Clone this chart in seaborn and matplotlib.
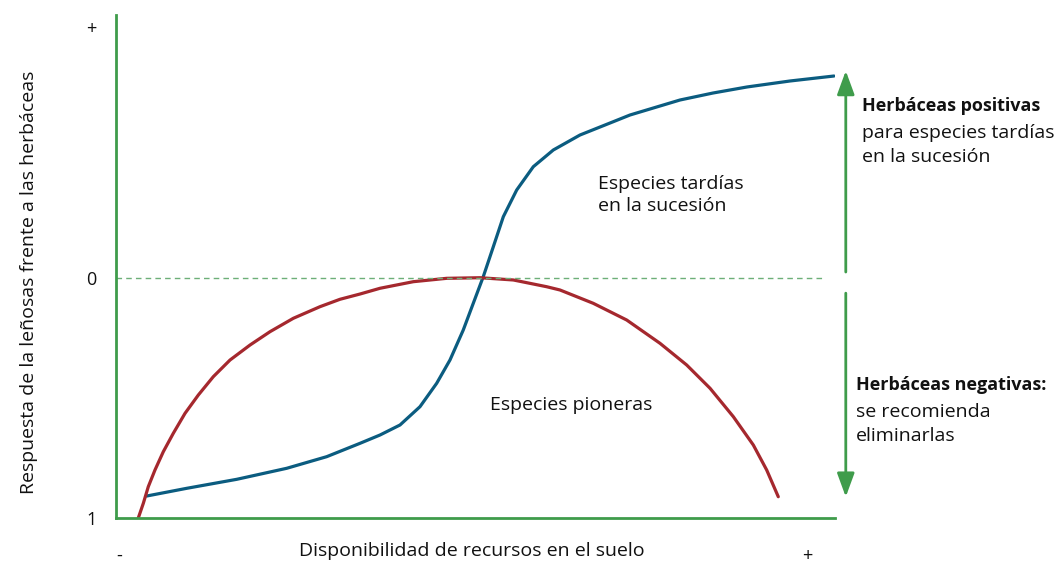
import matplotlib
matplotlib.use("Agg")
import matplotlib.pyplot as plt
import seaborn as sns

# Curves (x: resource availability 0-100, y: response 0-100)
tardias_x = [4.27, 9.83, 16.79, 23.74, 29.30, 33.94, 36.72, 39.50, 42.28, 44.60, 46.45,
             48.30, 49.69, 51.08, 52.48, 53.87, 55.73, 58.04, 60.82, 64.53, 69.17, 71.49,
             78.44, 83.03, 87.76, 93.74, 99.86]
tardias_y = [4.37, 5.90, 7.69, 9.88, 12.19, 14.85, 16.50, 18.49, 22.13, 26.78, 31.41,
             37.38, 42.68, 47.97, 53.94, 59.90, 65.21, 69.84, 73.16, 76.14, 78.79, 80.12,
             83.10, 84.49, 85.69, 86.88, 87.87]

pioneras_x = [3.10, 3.80, 4.49, 5.42, 6.58, 7.97, 9.60, 11.45, 13.53, 15.86, 18.64, 21.42,
              24.66, 28.37, 31.15, 33.94, 36.72, 41.35, 45.99, 50.63, 55.26, 59.90, 61.75,
              66.38, 71.03, 75.66, 79.37, 82.62, 85.86, 88.64, 90.50, 92.11]
pioneras_y = [0.0, 2.92, 6.22, 9.54, 13.18, 16.84, 20.81, 24.45, 28.09, 31.41, 34.39, 37.04,
              39.70, 42.01, 43.48, 44.53, 45.67, 46.98, 47.65, 47.77, 47.32, 45.98, 45.33,
              42.68, 39.36, 34.73, 30.42, 25.79, 20.14, 14.51, 9.54, 4.23]

y_ticks = [97.6, 47.7, 0]
y_labels = ["+", "0", "1"]
x_ticks = [0.4, 96.2]
x_labels = ["-", "+"]
zero_level = 47.7

green = "#3f9c4b"
blue = "#0b5c80"
red = "#a5282e"
ink = "#111111"

sns.set_theme(style="white")
plt.rcParams["font.family"] = ["Open Sans", "DejaVu Sans"]

fig = plt.figure(figsize=(10.56, 5.65), dpi=100)
ax = fig.add_axes([116 / 1056, 1 - 518 / 565, 719 / 1056, 503 / 565])

sns.lineplot(x=tardias_x, y=tardias_y, color=blue, lw=2.3, sort=False, ax=ax)
sns.lineplot(x=pioneras_x, y=pioneras_y, color=red, lw=2.3, sort=False, ax=ax)

ax.plot([0, 98.6], [zero_level, zero_level], ls=(0, (4, 3)), color="#6daf78", lw=1.0)

ax.set_xlim(0, 100)
ax.set_ylim(0, 100)

for s in ["top", "right"]:
    ax.spines[s].set_visible(False)
for s in ["left", "bottom"]:
    ax.spines[s].set_color(green)
    ax.spines[s].set_linewidth(2.0)

ax.set_yticks(y_ticks)
ax.set_yticklabels(y_labels)
ax.set_xticks(x_ticks)
ax.set_xticklabels(x_labels)
ax.tick_params(axis="y", length=0, pad=14, labelsize=13, labelcolor=ink)
ax.tick_params(axis="x", length=0, pad=21, labelsize=13, labelcolor=ink)

ax.set_xlabel("Disponibilidad de recursos en el suelo", fontsize=14, color=ink)
ax.xaxis.set_label_coords(0.495, -0.048)
ax.set_ylabel("Respuesta de la leñosas frente a las herbáceas", fontsize=14, color=ink)
ax.yaxis.set_label_coords(-0.108, 0.468)

ax.text(67.0, 64.2, "Especies tardías\nen la sucesión", fontsize=14, color=ink,
        va="center", ha="left", linespacing=1.3)
ax.text(52.0, 22.5, "Especies pioneras", fontsize=14, color=ink,
        va="center", ha="left")

# right-hand arrows
arrow = dict(arrowstyle="-|>,head_length=0.6,head_width=0.22", color=green, lw=2.0,
             mutation_scale=24, shrinkA=0, shrinkB=0)
ax.annotate("", xy=(101.5, 88.9), xytext=(101.5, 48.9), arrowprops=arrow,
            annotation_clip=False)
ax.annotate("", xy=(101.5, 4.2), xytext=(101.5, 44.7), arrowprops=arrow,
            annotation_clip=False)

ax.text(103.8, 81.9, "Herbáceas positivas", fontsize=13, fontweight="bold",
        color=ink, va="center", ha="left", clip_on=False)
ax.text(103.8, 74.2, "para especies tardías\nen la sucesión", fontsize=14,
        color=ink, va="center", ha="left", linespacing=1.4, clip_on=False)

ax.text(102.9, 26.4, "Herbáceas negativas:", fontsize=13, fontweight="bold",
        color=ink, va="center", ha="left", clip_on=False)
ax.text(102.9, 18.7, "se recomienda\neliminarlas", fontsize=14,
        color=ink, va="center", ha="left", linespacing=1.4, clip_on=False)

fig.savefig("out.png", dpi=100)
